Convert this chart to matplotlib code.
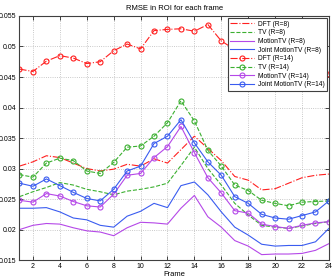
import matplotlib.pyplot as plt
import numpy as np
from matplotlib.ticker import FuncFormatter

plt.rcParams["font.family"] = ["Liberation Sans", "DejaVu Sans"]
plt.rcParams["font.size"] = 5

frames = np.arange(1, 25)

dft_r8 = [0.0304, 0.0311, 0.0321, 0.0318, 0.0309, 0.0300, 0.0296, 0.0299,
          0.0307, 0.0304, 0.0316, 0.0309, 0.0331, 0.0353, 0.0333, 0.0313,
          0.0287, 0.0281, 0.0265, 0.0267, 0.0276, 0.0285, 0.0289, 0.0291]
tv_r8 = [0.0254, 0.0262, 0.0269, 0.0277, 0.0273, 0.0266, 0.0262, 0.0257,
         0.0263, 0.0266, 0.0270, 0.0276, 0.0305, 0.0335, 0.0300, 0.0273,
         0.0243, 0.0224, 0.0207, 0.0204, 0.0202, 0.0206, 0.0210, 0.0213]
motiontv_r8 = [0.0200, 0.0207, 0.0210, 0.0209, 0.0203, 0.0198, 0.0196, 0.0190,
               0.0203, 0.0212, 0.0211, 0.0209, 0.0235, 0.0256, 0.0221, 0.0204,
               0.0182, 0.0173, 0.0159, 0.0160, 0.0160, 0.0161, 0.0166, 0.0177]
joint_r8 = [0.0235, 0.0235, 0.0236, 0.0229, 0.0219, 0.0216, 0.0207, 0.0204,
            0.0222, 0.0230, 0.0243, 0.0236, 0.0272, 0.0278, 0.0257, 0.0229,
            0.0204, 0.0191, 0.0176, 0.0173, 0.0174, 0.0174, 0.0180, 0.0202]
dft_r14 = [0.0463, 0.0459, 0.0476, 0.0485, 0.0481, 0.0472, 0.0475, 0.0493,
           0.0504, 0.0496, 0.0526, 0.0528, 0.0529, 0.0525, 0.0536, 0.0509,
           0.0495, 0.0485, 0.0472, 0.0468, 0.0466, 0.0462, 0.0459, 0.0455]
tv_r14 = [0.0290, 0.0286, 0.0309, 0.0317, 0.0313, 0.0296, 0.0292, 0.0310,
          0.0335, 0.0337, 0.0353, 0.0375, 0.0411, 0.0378, 0.0330, 0.0304,
          0.0273, 0.0264, 0.0248, 0.0243, 0.0239, 0.0245, 0.0246, 0.0247]
motiontv_r14 = [0.0248, 0.0245, 0.0259, 0.0255, 0.0246, 0.0239, 0.0237, 0.0258,
                0.0289, 0.0292, 0.0318, 0.0336, 0.0369, 0.0326, 0.0285, 0.0260,
                0.0231, 0.0227, 0.0209, 0.0205, 0.0202, 0.0207, 0.0211, 0.0213]
joint_r14 = [0.0276, 0.0271, 0.0283, 0.0272, 0.0261, 0.0251, 0.0247, 0.0266,
             0.0296, 0.0304, 0.0341, 0.0353, 0.0380, 0.0342, 0.0311, 0.0289,
             0.0254, 0.0243, 0.0225, 0.0219, 0.0217, 0.0223, 0.0229, 0.0247]

red = "#ff2020"
green = "#3cb031"
purple = "#b548e8"
blue = "#3a5cf0"

fig = plt.figure(figsize=(3.36, 2.8), dpi=100)
ax = fig.add_axes([0.058, 0.071, 0.921, 0.872])

lw = 0.8
ms = 3.6
ax.plot(frames, dft_r8, color=red, linestyle="-.", lw=lw, label="DFT (R=8)")
ax.plot(frames, tv_r8, color=green, linestyle="--", lw=lw, label="TV (R=8)")
ax.plot(frames, motiontv_r8, color=purple, linestyle="-", lw=lw, label="MotionTV (R=8)")
ax.plot(frames, joint_r8, color=blue, linestyle="-", lw=lw, label="Joint MotionTV (R=8)")
ax.plot(frames, dft_r14, color=red, linestyle="-.", lw=lw, marker="o", ms=ms,
        mfc="none", mew=0.8, label="DFT (R=14)")
ax.plot(frames, tv_r14, color=green, linestyle="--", lw=lw, marker="o", ms=ms,
        mfc="none", mew=0.8, label="TV (R=14)")
ax.plot(frames, motiontv_r14, color=purple, linestyle="-", lw=lw, marker="o", ms=ms,
        mfc="none", mew=0.8, label="MotionTV (R=14)")
ax.plot(frames, joint_r14, color=blue, linestyle="-", lw=lw, marker="o", ms=ms,
        mfc="none", mew=0.8, label="Joint MotionTV (R=14)")

ax.set_xlim(1, 24)
ax.set_ylim(0.015, 0.055)
ax.set_xticks(np.arange(2, 25, 2))
ax.set_yticks(np.arange(0.015, 0.0551, 0.005))
ax.yaxis.set_major_formatter(FuncFormatter(lambda v, p: ("%.3f" % v).rstrip("0")))
ax.tick_params(direction="in", length=3, width=0.5, top=True, right=True, pad=2, labelsize=5)
ax.grid(True, color="#b8b8b8", linestyle=":", linewidth=0.6)
for s in ax.spines.values():
    s.set_linewidth(0.8)
    s.set_color("#404040")

ax.set_title("RMSE in ROI for each frame", fontsize=5.5, pad=4)
ax.set_xlabel("Frame", fontsize=5.5, labelpad=1)

leg = ax.legend(loc="upper right", fontsize=4.8, handlelength=3.6, borderaxespad=0.3,
                labelspacing=0.25, fancybox=False, framealpha=1, borderpad=0.4,
                handletextpad=0.5)
leg.get_frame().set_edgecolor("#404040")
leg.get_frame().set_linewidth(0.8)

fig.savefig("out.png", dpi=100)
